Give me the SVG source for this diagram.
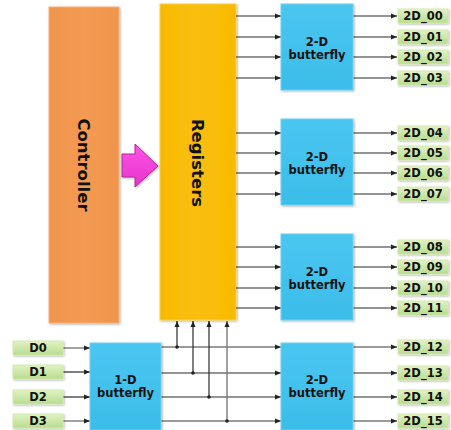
<svg xmlns="http://www.w3.org/2000/svg" width="451" height="430" viewBox="0 0 451 430">
<defs>
<linearGradient id="gBlue" x1="0" y1="0" x2="0" y2="1"><stop offset="0" stop-color="#4ac6f0"/><stop offset="1" stop-color="#3bbde9"/></linearGradient>
<linearGradient id="gGreen" x1="0" y1="0" x2="0" y2="1"><stop offset="0" stop-color="#e2f2c6"/><stop offset="1" stop-color="#b8dc8e"/></linearGradient>
<linearGradient id="gOrange" x1="0" y1="0" x2="1" y2="0"><stop offset="0" stop-color="#f0944c"/><stop offset="0.5" stop-color="#f39a52"/><stop offset="1" stop-color="#f0944c"/></linearGradient>
<linearGradient id="gGold" x1="0" y1="0" x2="1" y2="0"><stop offset="0" stop-color="#f7ba04"/><stop offset="0.5" stop-color="#fabf0a"/><stop offset="1" stop-color="#f7ba04"/></linearGradient>
<linearGradient id="gPink" x1="0" y1="0" x2="0" y2="1"><stop offset="0" stop-color="#ff55e6"/><stop offset="1" stop-color="#e633cb"/></linearGradient>
<marker id="ah" markerWidth="6" markerHeight="6" refX="6" refY="3" orient="auto" markerUnits="userSpaceOnUse"><path d="M0,0.5 L6,3 L0,5.5 Z" fill="#222"/></marker>
<filter id="sh" x="-10%" y="-10%" width="130%" height="130%"><feDropShadow dx="1" dy="1" stdDeviation="0.8" flood-color="#000" flood-opacity="0.3"/></filter>
</defs>
<style>
.ln{stroke:#2a2a2a;stroke-width:1.2;fill:none}
.gr{stroke:#7a7a7a;stroke-width:1.4;fill:none}
.arr{marker-end:url(#ah)}
.bf{fill:url(#gBlue);stroke:#6fd2f2;stroke-width:1;filter:url(#sh)}
.lbl{fill:url(#gGreen);stroke:#cfe8a8;stroke-width:0.8;filter:url(#sh)}
.t{font-family:"DejaVu Sans",Verdana,sans-serif;font-weight:bold;fill:#111}
.bt{font-size:11.5px;text-anchor:middle}
.lt{font-size:11.5px;text-anchor:middle}
.big{font-size:16.5px;text-anchor:middle}
</style>

<g id="controller">
<rect x="49" y="7" width="70" height="316" fill="url(#gOrange)" stroke="#f6b07a" stroke-width="1" filter="url(#sh)"/>
<text class="t big" transform="translate(84,165) rotate(90)" dy="6">Controller</text>
</g>

<g id="registers">
<rect x="160" y="4" width="76" height="316" fill="url(#gGold)" stroke="#f9d040" stroke-width="1" filter="url(#sh)"/>
<text class="t big" transform="translate(198,163) rotate(90)" dy="6">Registers</text>
</g>

<g id="pink-arrow">
<path d="M122,154 L135,154 L135,144 L158,166 L135,187 L135,177 L122,177 Z" fill="url(#gPink)" stroke="#b02a98" stroke-width="1" filter="url(#sh)"/>
</g>

<g id="connectors">
<line class="ln arr" x1="236" y1="16" x2="281" y2="16"/>
<line class="ln arr" x1="236" y1="37" x2="281" y2="37"/>
<line class="ln arr" x1="236" y1="57" x2="281" y2="57"/>
<line class="ln arr" x1="236" y1="78" x2="281" y2="78"/>
<line class="ln arr" x1="236" y1="133" x2="281" y2="133"/>
<line class="ln arr" x1="236" y1="153" x2="281" y2="153"/>
<line class="ln arr" x1="236" y1="173" x2="281" y2="173"/>
<line class="ln arr" x1="236" y1="194" x2="281" y2="194"/>
<line class="ln arr" x1="236" y1="247" x2="281" y2="247"/>
<line class="ln arr" x1="236" y1="267" x2="281" y2="267"/>
<line class="ln arr" x1="236" y1="288" x2="281" y2="288"/>
<line class="ln arr" x1="236" y1="308" x2="281" y2="308"/>
<line class="ln arr" x1="353" y1="16" x2="397" y2="16"/>
<line class="ln arr" x1="353" y1="37" x2="397" y2="37"/>
<line class="ln arr" x1="353" y1="57" x2="397" y2="57"/>
<line class="ln arr" x1="353" y1="78" x2="397" y2="78"/>
<line class="ln arr" x1="353" y1="133" x2="397" y2="133"/>
<line class="ln arr" x1="353" y1="153" x2="397" y2="153"/>
<line class="ln arr" x1="353" y1="173" x2="397" y2="173"/>
<line class="ln arr" x1="353" y1="194" x2="397" y2="194"/>
<line class="ln arr" x1="353" y1="247" x2="397" y2="247"/>
<line class="ln arr" x1="353" y1="267" x2="397" y2="267"/>
<line class="ln arr" x1="353" y1="288" x2="397" y2="288"/>
<line class="ln arr" x1="353" y1="308" x2="397" y2="308"/>
<line class="gr arr" x1="353" y1="347" x2="397" y2="347"/>
<line class="ln arr" x1="353" y1="373" x2="397" y2="373"/>
<line class="ln arr" x1="353" y1="397" x2="397" y2="397"/>
<line class="gr arr" x1="353" y1="421" x2="397" y2="421"/>
<line class="gr arr" x1="63" y1="348" x2="90" y2="348"/>
<line class="ln arr" x1="63" y1="372" x2="90" y2="372"/>
<line class="ln arr" x1="63" y1="397" x2="90" y2="397"/>
<line class="gr arr" x1="63" y1="421" x2="90" y2="421"/>
<line class="gr arr" x1="161" y1="347" x2="281" y2="347"/>
<line class="ln arr" x1="161" y1="373" x2="281" y2="373"/>
<line class="ln arr" x1="161" y1="397" x2="281" y2="397"/>
<line class="gr arr" x1="161" y1="421" x2="281" y2="421"/>
<line class="ln arr" x1="177" y1="347" x2="177" y2="321"/>
<line class="ln arr" x1="193" y1="373" x2="193" y2="321"/>
<line class="ln arr" x1="209" y1="397" x2="209" y2="321"/>
<line class="gr arr" x1="227" y1="421" x2="227" y2="321"/>
<circle cx="177" cy="347" r="1.8" fill="#222"/>
<circle cx="193" cy="373" r="1.8" fill="#222"/>
<circle cx="209" cy="397" r="1.8" fill="#222"/>
<circle cx="227" cy="421" r="1.8" fill="#222"/>
</g>

<g id="bf2d-0">
<rect class="bf" x="281" y="4" width="72" height="86"/>
<text class="t bt" x="317" y="46">2-D</text><text class="t bt" x="317" y="59">butterfly</text>
</g>
<g id="bf2d-1">
<rect class="bf" x="281" y="119" width="72" height="86"/>
<text class="t bt" x="317" y="161">2-D</text><text class="t bt" x="317" y="174">butterfly</text>
</g>
<g id="bf2d-2">
<rect class="bf" x="281" y="234" width="72" height="86"/>
<text class="t bt" x="317" y="276">2-D</text><text class="t bt" x="317" y="289">butterfly</text>
</g>
<g id="bf2d-3">
<rect class="bf" x="281" y="343" width="72" height="87"/>
<text class="t bt" x="317" y="384">2-D</text><text class="t bt" x="317" y="397">butterfly</text>
</g>
<g id="bf1d">
<rect class="bf" x="90" y="343" width="71" height="87"/>
<text class="t bt" x="125.5" y="384">1-D</text><text class="t bt" x="125.5" y="397">butterfly</text>
</g>

<g id="in-D0"><rect class="lbl" x="13" y="341" width="50" height="14"/><text class="t lt" x="38" y="352">D0</text></g>
<g id="in-D1"><rect class="lbl" x="13" y="365" width="50" height="14"/><text class="t lt" x="38" y="376">D1</text></g>
<g id="in-D2"><rect class="lbl" x="13" y="390" width="50" height="14"/><text class="t lt" x="38" y="401">D2</text></g>
<g id="in-D3"><rect class="lbl" x="13" y="414" width="50" height="14"/><text class="t lt" x="38" y="425">D3</text></g>

<g id="out-00"><rect class="lbl" x="398" y="9" width="50" height="14"/><text class="t lt" x="423" y="20">2D_00</text></g>
<g id="out-01"><rect class="lbl" x="398" y="30" width="50" height="14"/><text class="t lt" x="423" y="41">2D_01</text></g>
<g id="out-02"><rect class="lbl" x="398" y="50" width="50" height="14"/><text class="t lt" x="423" y="61">2D_02</text></g>
<g id="out-03"><rect class="lbl" x="398" y="71" width="50" height="14"/><text class="t lt" x="423" y="82">2D_03</text></g>
<g id="out-04"><rect class="lbl" x="398" y="126" width="50" height="14"/><text class="t lt" x="423" y="137">2D_04</text></g>
<g id="out-05"><rect class="lbl" x="398" y="146" width="50" height="14"/><text class="t lt" x="423" y="157">2D_05</text></g>
<g id="out-06"><rect class="lbl" x="398" y="166" width="50" height="14"/><text class="t lt" x="423" y="177">2D_06</text></g>
<g id="out-07"><rect class="lbl" x="398" y="187" width="50" height="14"/><text class="t lt" x="423" y="198">2D_07</text></g>
<g id="out-08"><rect class="lbl" x="398" y="240" width="50" height="14"/><text class="t lt" x="423" y="251">2D_08</text></g>
<g id="out-09"><rect class="lbl" x="398" y="260" width="50" height="14"/><text class="t lt" x="423" y="271">2D_09</text></g>
<g id="out-10"><rect class="lbl" x="398" y="281" width="50" height="14"/><text class="t lt" x="423" y="292">2D_10</text></g>
<g id="out-11"><rect class="lbl" x="398" y="301" width="50" height="14"/><text class="t lt" x="423" y="312">2D_11</text></g>
<g id="out-12"><rect class="lbl" x="398" y="340" width="50" height="14"/><text class="t lt" x="423" y="351">2D_12</text></g>
<g id="out-13"><rect class="lbl" x="398" y="366" width="50" height="14"/><text class="t lt" x="423" y="377">2D_13</text></g>
<g id="out-14"><rect class="lbl" x="398" y="390" width="50" height="14"/><text class="t lt" x="423" y="401">2D_14</text></g>
<g id="out-15"><rect class="lbl" x="398" y="414" width="50" height="14"/><text class="t lt" x="423" y="425">2D_15</text></g>
</svg>
